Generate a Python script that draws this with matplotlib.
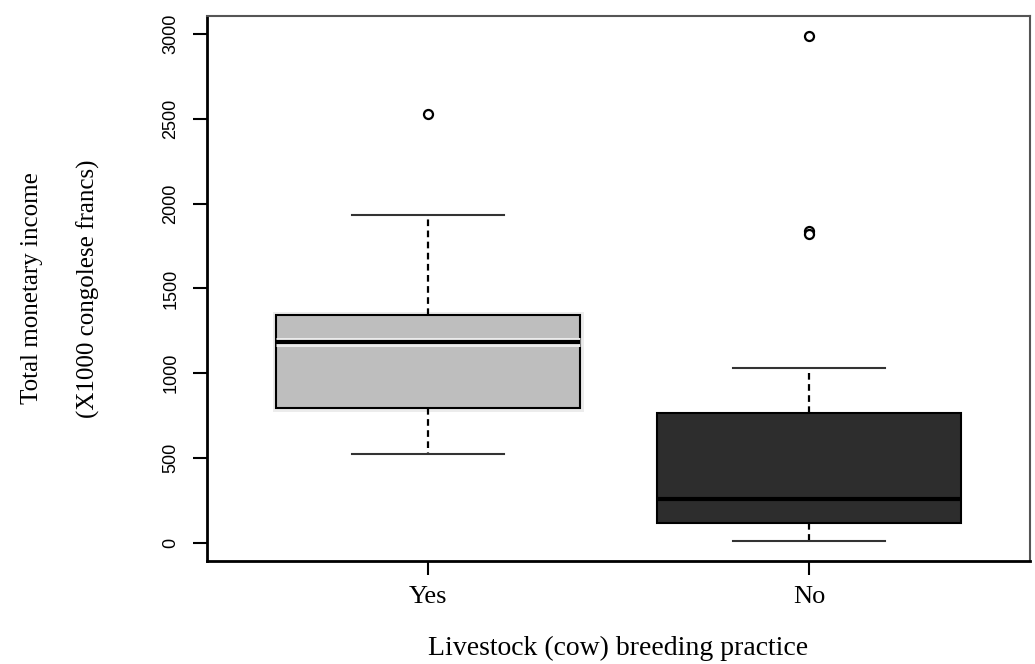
import matplotlib.pyplot as plt
import matplotlib.patheffects as pe
import numpy as np

# box statistics
groups = ['Yes', 'No']
q1 = [795, 118]
med = [1185, 259]
q3 = [1343, 766]
whislo = [524, 14]
whishi = [1933, 1031]
fliers = [[2525], [2988, 1840, 1820]]
fills = ['#bebebe', '#2d2d2d']

yticks = [0, 500, 1000, 1500, 2000, 2500, 3000]

stats = []
for i in range(len(groups)):
    stats.append(dict(label=groups[i], q1=q1[i], med=med[i], q3=q3[i],
                      whislo=whislo[i], whishi=whishi[i], fliers=fliers[i]))

fig = plt.figure(figsize=(10.35, 6.64), dpi=100)
ax = fig.add_axes([207 / 1035, 103 / 664, (1030 - 207) / 1035, (561 - 15.7) / 664])

bp = ax.bxp(stats, positions=[1, 2], widths=0.8, patch_artist=True,
            boxprops=dict(edgecolor='black', linewidth=1.5),
            medianprops=dict(color='black', linewidth=3),
            whiskerprops=dict(color='black', linestyle=(0, (3, 2)), linewidth=1.6),
            capprops=dict(color='#333333', linewidth=1.5),
            flierprops=dict(marker='o', markerfacecolor='white', markeredgecolor='black',
                            markersize=6.5, markeredgewidth=1.6))
for patch, c in zip(bp['boxes'], fills):
    patch.set_facecolor(c)

# light rim inside the grey box, as in the reference
halo = [pe.Stroke(linewidth=5, foreground='#ececec'), pe.Normal()]
bp['boxes'][0].set_path_effects(halo)
bp['medians'][0].set_path_effects([pe.Stroke(linewidth=6.5, foreground='#ececec'), pe.Normal()])

ax.set_xlim(0.42, 2.58)
ax.set_ylim(-106, 3107)
ax.set_yticks(yticks)
ax.set_yticklabels([str(v) for v in yticks], family='Liberation Sans', fontsize=13,
                   rotation=90, va='center')
ax.set_xticks([1, 2])
ax.set_xticklabels(groups, family='Liberation Serif', fontsize=19)
ax.tick_params(axis='y', length=10, width=1.5, pad=10)
ax.tick_params(axis='x', length=10, width=1.5, pad=8)

for s in ['left', 'bottom']:
    ax.spines[s].set_linewidth(2)
for s in ['top', 'right']:
    ax.spines[s].set_linewidth(1.5)
    ax.spines[s].set_color('#555555')

ax.set_xlabel('Livestock (cow) breeding practice', family='Liberation Serif',
              fontsize=20, labelpad=20)

ymid = (664 - (561 + 15.7) / 2) / 664
fig.text(32 / 1035, ymid, 'Total monetary income', family='Liberation Serif',
         fontsize=18, rotation=90, ha='center', va='center')
fig.text(88 / 1035, ymid, '(X1000 congolese francs)', family='Liberation Serif',
         fontsize=18, rotation=90, ha='center', va='center')

fig.savefig('out.png', dpi=100)
